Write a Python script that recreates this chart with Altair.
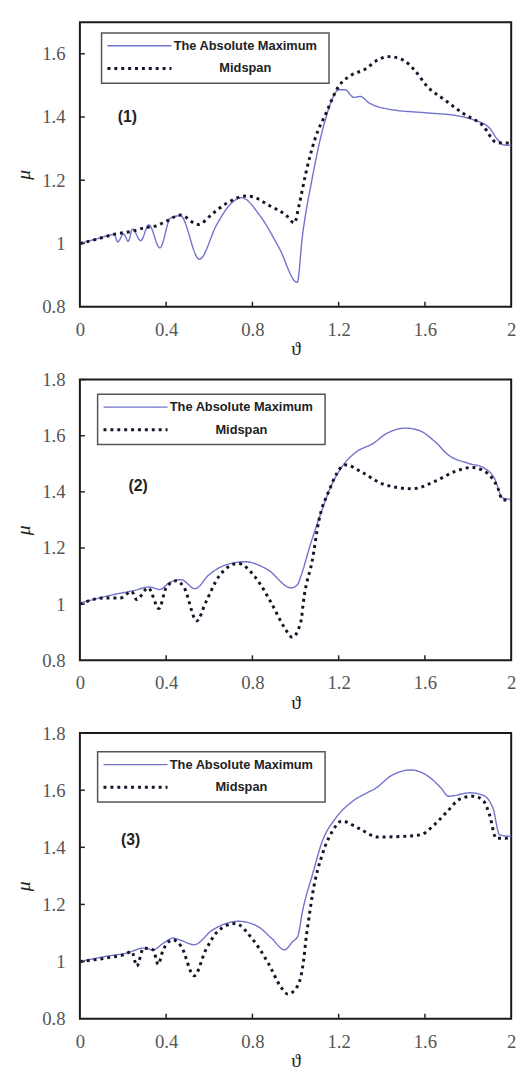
import altair as alt
import pandas as pd

SERIES = ["The Absolute Maximum", "Midspan"]
PANEL_LABELS = ["(1)", "(2)", "(3)"]
ANN_X = [0.22, 0.27, 0.235]
ANN_Y = [1.40, 1.42, 1.424]

X_TICKS = [0, 0.4, 0.8, 1.2, 1.6, 2]
Y_TICKS_1 = [0.8, 1.0, 1.2, 1.4, 1.6]
Y_TICKS_23 = [0.8, 1.0, 1.2, 1.4, 1.6, 1.8]
Y_MAX = [1.7, 1.8, 1.8]

# Panel (1)
p1_max_x = [0, 0.08, 0.16, 0.175, 0.203, 0.224, 0.244, 0.282, 0.32, 0.371, 0.42, 0.466, 0.554, 0.634, 0.695,
            0.749, 0.833, 0.924, 1.008, 1.031, 1.077, 1.108, 1.139, 1.169, 1.2, 1.23, 1.27, 1.3, 1.34, 1.43,
            1.61, 1.74, 1.83, 1.9, 1.935, 1.965, 2.0]
p1_max_y = [1.0, 1.015, 1.028, 1.005, 1.03, 1.007, 1.046, 1.009, 1.059, 0.986, 1.08, 1.088, 0.95, 1.059, 1.122,
            1.145, 1.09, 0.986, 0.877, 1.018, 1.205, 1.31, 1.393, 1.455, 1.486, 1.486, 1.462, 1.465, 1.445, 1.425,
            1.413, 1.405, 1.39, 1.365, 1.33, 1.312, 1.31]
p1_mid_x = [0, 0.08, 0.152, 0.25, 0.3, 0.35, 0.4, 0.466, 0.548, 0.618, 0.68, 0.77, 0.8, 0.878, 0.955, 0.995,
            1.016, 1.047, 1.09, 1.14, 1.2, 1.26, 1.32, 1.38, 1.43, 1.5, 1.55, 1.61, 1.69, 1.78, 1.87, 1.93,
            1.96, 2.0]
p1_mid_y = [1.0, 1.014, 1.028, 1.04, 1.05, 1.055, 1.07, 1.09, 1.06, 1.096, 1.127, 1.15, 1.148, 1.12, 1.09, 1.065,
            1.12, 1.22, 1.33, 1.41, 1.497, 1.533, 1.55, 1.58, 1.591, 1.58, 1.55, 1.497, 1.455, 1.41, 1.372, 1.32,
            1.318, 1.318]

# Panel (2)
p2_max_x = [0, 0.157, 0.248, 0.324, 0.37, 0.416, 0.469, 0.534, 0.598, 0.674, 0.766, 0.872, 0.979, 1.009, 1.024,
            1.07, 1.116, 1.161, 1.222, 1.283, 1.359, 1.42, 1.511, 1.572, 1.648, 1.709, 1.8, 1.877, 1.922, 1.96, 2.0]
p2_max_y = [1.003, 1.034, 1.048, 1.061, 1.052, 1.077, 1.087, 1.055, 1.104, 1.139, 1.151, 1.122, 1.058, 1.069, 1.098,
            1.215, 1.321, 1.414, 1.496, 1.543, 1.572, 1.607, 1.627, 1.619, 1.578, 1.531, 1.502, 1.484, 1.449, 1.379,
            1.373]
p2_mid_x = [0, 0.111, 0.187, 0.24, 0.263, 0.317, 0.367, 0.4, 0.446, 0.484, 0.542, 0.583, 0.644, 0.735, 0.811,
            0.887, 0.948, 0.985, 1.024, 1.04, 1.078, 1.108, 1.154, 1.23, 1.314, 1.405, 1.542, 1.648, 1.74, 1.816,
            1.877, 1.938, 1.96, 2.0]
p2_mid_y = [1.0, 1.022, 1.022, 1.045, 1.016, 1.058, 0.984, 1.058, 1.083, 1.058, 0.94, 1.005, 1.098, 1.145, 1.098,
            1.005, 0.917, 0.882, 0.935, 1.028, 1.157, 1.297, 1.402, 1.496, 1.467, 1.428, 1.411, 1.438, 1.473, 1.487,
            1.473, 1.414, 1.371, 1.371]

# Panel (3)
p3_max_x = [0, 0.127, 0.218, 0.295, 0.34, 0.386, 0.432, 0.462, 0.53, 0.614, 0.69, 0.736, 0.827, 0.888, 0.949,
            0.987, 1.01, 1.033, 1.079, 1.124, 1.185, 1.261, 1.337, 1.368, 1.444, 1.535, 1.611, 1.672, 1.71, 1.809,
            1.87, 1.916, 1.946, 2.0]
p3_max_y = [1.0, 1.019, 1.03, 1.047, 1.041, 1.064, 1.082, 1.076, 1.059, 1.11, 1.136, 1.141, 1.122, 1.082, 1.041,
            1.07, 1.088, 1.179, 1.306, 1.421, 1.501, 1.559, 1.593, 1.605, 1.651, 1.671, 1.651, 1.61, 1.579, 1.591,
            1.582, 1.536, 1.444, 1.438]
p3_mid_x = [0, 0.127, 0.203, 0.241, 0.264, 0.295, 0.34, 0.363, 0.386, 0.432, 0.47, 0.53, 0.584, 0.645, 0.721,
            0.797, 0.873, 0.934, 0.964, 1.01, 1.04, 1.048, 1.063, 1.079, 1.124, 1.17, 1.215, 1.291, 1.383, 1.489,
            1.581, 1.642, 1.702, 1.764, 1.824, 1.87, 1.9, 1.93, 1.976, 2.0]
p3_mid_y = [1.0, 1.013, 1.024, 1.035, 0.984, 1.047, 1.041, 0.99, 1.041, 1.076, 1.053, 0.95, 1.041, 1.11, 1.133,
            1.082, 0.995, 0.909, 0.886, 0.915, 1.019, 1.076, 1.157, 1.237, 1.375, 1.455, 1.492, 1.467, 1.436, 1.438,
            1.444, 1.478, 1.524, 1.57, 1.579, 1.564, 1.513, 1.432, 1.432, 1.44]

PANELS = [
    (p1_max_x, p1_max_y, p1_mid_x, p1_mid_y, Y_TICKS_1, 289, (22, 11)),
    (p2_max_x, p2_max_y, p2_mid_x, p2_mid_y, Y_TICKS_23, 285, (18, 15)),
    (p3_max_x, p3_max_y, p3_mid_x, p3_mid_y, Y_TICKS_23, 290, (18, 19)),
]

COLORS = ["#7272cc", "#15152a"]
WIDTHS = [1.4, 3]
DASHES = [[1, 0], [3, 4]]
W = 438
LEG_W, LEG_H = 231, 51


def make_panel(i):
    mx, my, dx, dy, yticks, h, (lx, ly) = PANELS[i]
    df = pd.concat([
        pd.DataFrame({"theta": mx, "mu": my, "series": SERIES[0]}),
        pd.DataFrame({"theta": dx, "mu": dy, "series": SERIES[1]}),
    ], ignore_index=True)
    xscale = alt.Scale(domain=[0, 2], nice=False, zero=False)
    yscale = alt.Scale(domain=[0.8, Y_MAX[i]], nice=False, zero=False)
    xaxis = alt.Axis(values=X_TICKS, format="~g", title="ϑ", ticks=False, domain=False, grid=False,
                     labelFlush=False, labelPadding=14, titlePadding=0)
    yaxis = alt.Axis(values=yticks, format="~g", title="μ", ticks=False, domain=False, grid=False,
                     labelFlush=False, labelPadding=15, titlePadding=8, titleFontStyle="italic",
                     titleY=h / 2 + 10)
    lines = alt.Chart(df).mark_line(interpolate="monotone").encode(
        x=alt.X("theta:Q", scale=xscale, axis=xaxis),
        y=alt.Y("mu:Q", scale=yscale, axis=yaxis),
        color=alt.Color("series:N", scale=alt.Scale(domain=SERIES, range=COLORS), legend=None),
        strokeDash=alt.StrokeDash("series:N", scale=alt.Scale(domain=SERIES, range=DASHES), legend=None),
        strokeWidth=alt.StrokeWidth("series:N", scale=alt.Scale(domain=SERIES, range=WIDTHS), legend=None),
    )
    xt = alt.Chart(pd.DataFrame({"theta": X_TICKS[1:-1]})).mark_rule(color="#222", strokeWidth=1.5).encode(
        x=alt.X("theta:Q"), y=alt.value(h), y2=alt.value(h - 5))
    yt = alt.Chart(pd.DataFrame({"mu": yticks[1:]})).mark_rule(color="#222", strokeWidth=1.5).encode(
        y=alt.Y("mu:Q"), x=alt.value(0), x2=alt.value(5))
    ann = alt.Chart(pd.DataFrame({"theta": [ANN_X[i]], "mu": [ANN_Y[i]], "lab": [PANEL_LABELS[i]]})).mark_text(
        font="Liberation Sans", fontWeight="bold", fontSize=16, color="#222").encode(
        x="theta:Q", y="mu:Q", text="lab:N")
    one = pd.DataFrame({"k": [0]})
    box = alt.Chart(one).mark_rect(fill="white", stroke="#555", strokeWidth=1.5).encode(
        x=alt.value(lx), x2=alt.value(lx + LEG_W), y=alt.value(ly), y2=alt.value(ly + LEG_H))
    legs = [box]
    for j, s in enumerate(SERIES):
        yy = ly + 13 + 23 * j
        legs.append(alt.Chart(one).mark_rule(color=COLORS[j], strokeWidth=WIDTHS[j], strokeDash=DASHES[j]).encode(
            x=alt.value(lx + 6), x2=alt.value(lx + 71), y=alt.value(yy)))
        legs.append(alt.Chart(one).mark_text(font="Liberation Sans", fontWeight="bold", fontSize=13,
                                             color="#222", align="center", baseline="middle").encode(
            x=alt.value(lx + 146), y=alt.value(yy), text=alt.value(s)))
    return alt.layer(lines, xt, yt, ann, *legs).properties(width=W, height=h)


chart = alt.vconcat(*[make_panel(i) for i in range(3)], spacing=10).resolve_scale(
    x="independent", y="independent", color="independent", strokeDash="independent", strokeWidth="independent"
).configure_view(
    stroke="#1a1a1a", strokeWidth=2
).configure_axis(
    labelFont="Liberation Serif", labelFontSize=19, labelColor="#555",
    titleFont="Liberation Serif, DejaVu Serif", titleFontSize=20, titleColor="#222", titleFontWeight="normal"
).properties(background="white")

chart.save("out.html", embed_options={"renderer": "svg", "actions": False})
